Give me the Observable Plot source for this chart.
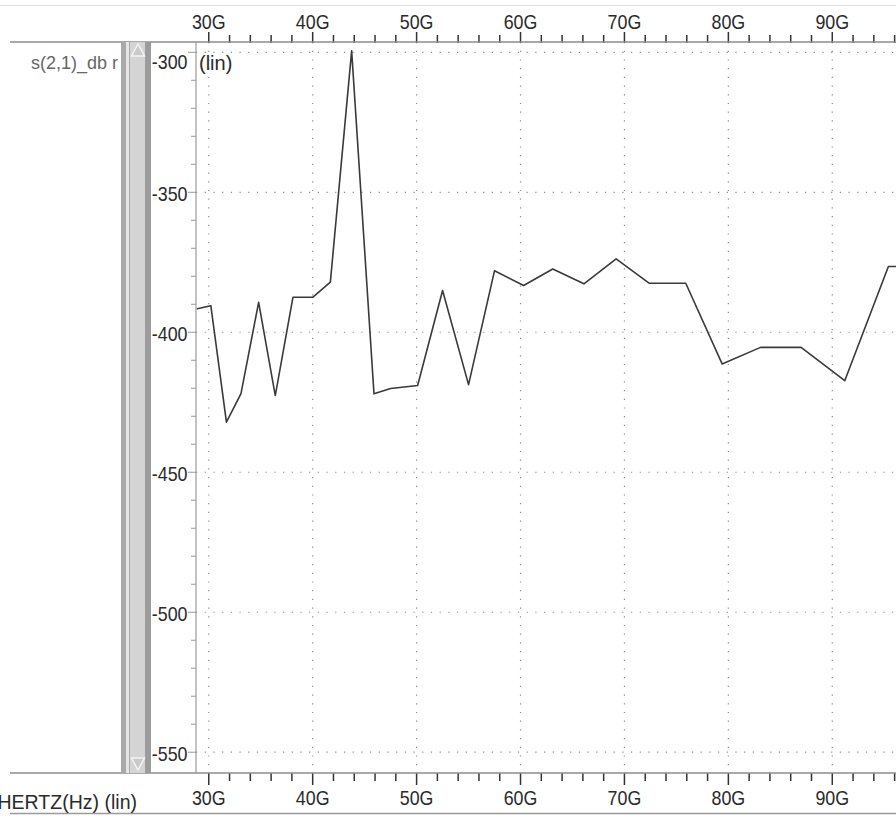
<!DOCTYPE html>
<html>
<head>
<meta charset="utf-8">
<script src="https://cdn.jsdelivr.net/npm/d3@7"></script>
<script src="https://cdn.jsdelivr.net/npm/@observablehq/plot@0.6"></script>
<style>
  html, body { margin: 0; padding: 0; background: #fff; }
  #chart { width: 896px; height: 818px; overflow: hidden; }
</style>
</head>
<body>
<div id="chart"></div>
<script>
// ---- data (frequency in GHz, S21 in dB) ----
const freqG = [28.9, 30.2, 31.7, 33.1, 34.8, 36.4, 38.1, 40.0, 41.7, 43.75, 45.9, 47.5, 50.1, 52.5, 55.0, 57.5, 60.3, 63.1, 66.1, 69.2, 72.4, 75.9, 79.4, 83.1, 87.0, 91.2, 95.4, 96.2];
const s21db = [-391.6, -390.5, -432.1, -421.9, -389.3, -422.6, -387.5, -387.5, -382.1, -299.5, -422.0, -420.1, -419.0, -385.1, -418.7, -378.0, -383.3, -377.4, -382.7, -373.8, -382.5, -382.5, -411.3, -405.4, -405.4, -417.3, -376.5, -376.5];

// ---- ticks ----
const xMajor = [30, 40, 50, 60, 70, 80, 90];
const xTickLabels = ["30G", "40G", "50G", "60G", "70G", "80G", "90G"];
const xMinor = [32, 34, 36, 38, 42, 44, 46, 48, 52, 54, 56, 58, 62, 64, 66, 68, 72, 74, 76, 78, 82, 84, 86, 88, 92, 94, 96];
const yMajor = [-300, -350, -400, -450, -500, -550];
const yTickLabels = ["-300", "-350", "-400", "-450", "-500", "-550"];
const yMinor = [-310, -320, -330, -340, -360, -370, -380, -390, -410, -420, -430, -440, -460, -470, -480, -490, -510, -520, -530, -540];
const xDomain = [28.82, 96.18];
const yDomain = [-557.6, -296.5];

const data = freqG.map((f, i) => ({f, db: s21db[i]}));
const xLabel = d => xTickLabels[xMajor.indexOf(d)];
const yLabel = d => yTickLabels[yMajor.indexOf(d)];

const FONT = "'Liberation Sans', Arial, sans-serif";
const FS = 21;
const gridStyle = {stroke: "#8a8a8a", strokeOpacity: 1, strokeWidth: 1.2, strokeDasharray: "1.2,7.5"};

const plot = Plot.plot({
  width: 896,
  height: 818,
  marginLeft: 196,
  marginRight: 0,
  marginTop: 42,
  marginBottom: 45,
  style: {fontFamily: FONT, fontSize: `${FS}px`, color: "#2a2a2a", background: "#fff"},
  x: {domain: xDomain},
  y: {domain: yDomain},
  marks: [
    Plot.gridX(xMajor, gridStyle),
    Plot.gridY(yMajor, gridStyle),
    // top axis
    Plot.axisX(xMinor, {anchor: "top", tickSize: 8, text: null, label: null, stroke: "#333", strokeWidth: 1.5}),
    Plot.axisX(xMajor, {anchor: "top", tickSize: 11, tickPadding: 3, label: null, tickFormat: xLabel, fontSize: FS, stroke: "#333", strokeWidth: 1.5, fill: "#2a2a2a"}),
    // bottom axis
    Plot.axisX(xMinor, {anchor: "bottom", tickSize: 8, text: null, label: null, stroke: "#333", strokeWidth: 1.5}),
    Plot.axisX(xMajor, {anchor: "bottom", tickSize: 12, tickPadding: 5, label: null, tickFormat: xLabel, fontSize: FS, stroke: "#333", strokeWidth: 1.5, fill: "#2a2a2a"}),
    // left axis
    Plot.axisY(yMinor, {anchor: "left", tickSize: 5, text: null, label: null, stroke: "#999"}),
    Plot.axisY(yMajor, {anchor: "left", tickSize: 8, text: null, label: null, stroke: "#999"}),
    Plot.axisY(yMajor.slice(0, 1), {anchor: "left", tickSize: 0, tickPadding: 9, dy: 10, label: null, tickFormat: yLabel, fontSize: FS, fill: "#2a2a2a"}),
    Plot.axisY(yMajor.slice(1), {anchor: "left", tickSize: 0, tickPadding: 9, dy: 2, label: null, tickFormat: yLabel, fontSize: FS, fill: "#2a2a2a"}),
    // series
    Plot.line(data, {x: "f", y: "db", stroke: "#3a3a3a", strokeWidth: 1.6, clip: true})
  ]
});

document.getElementById("chart").appendChild(plot);

// condensed look of the tick labels (narrow typeface in the original)
d3.select(plot).selectAll('g[aria-label$="tick label"] text').each(function () {
  const len = this.getComputedTextLength();
  if (len > 0) {
    this.setAttribute("textLength", (len * 0.85).toFixed(1));
    this.setAttribute("lengthAdjust", "spacingAndGlyphs");
  }
});

// ---- decorations (frame lines, labels, scrollbar) ----
const svg = d3.select(plot);
const xs = plot.scale("x"), ys = plot.scale("y");
const x0 = xs.apply(xDomain[0]);
const yTop = ys.apply(yDomain[1]);
const yBot = ys.apply(yDomain[0]);
const deco = svg.append("g").attr("text-anchor", "start");

deco.append("line").attr("x1", 0).attr("x2", 896).attr("y1", 5.5).attr("y2", 5.5).attr("stroke", "#e2e2e2");
deco.append("line").attr("x1", 10).attr("x2", 896).attr("y1", yTop).attr("y2", yTop).attr("stroke", "#8c8c8c").attr("stroke-width", 1.5);
deco.append("line").attr("x1", 10).attr("x2", 896).attr("y1", yBot).attr("y2", yBot).attr("stroke", "#8c8c8c").attr("stroke-width", 1.5);
deco.append("line").attr("x1", 10).attr("x2", 896).attr("y1", 813.5).attr("y2", 813.5).attr("stroke", "#9a9a9a").attr("stroke-width", 1.5);
deco.append("line").attr("x1", x0).attr("x2", x0).attr("y1", yTop).attr("y2", yBot).attr("stroke", "#9a9a9a").attr("stroke-width", 1.2);

deco.append("text").attr("x", 31).attr("y", 69).attr("text-anchor", "start")
  .attr("font-family", FONT).attr("font-size", 18)
  .attr("fill", "#666").text("s(2,1)_db r");

deco.append("text").attr("x", x0 + 3).attr("y", 70).attr("text-anchor", "start")
  .attr("font-family", FONT).attr("font-size", 20).attr("fill", "#2a2a2a").text("(lin)");

const hz = deco.append("text").attr("x", 137).attr("y", 809).attr("text-anchor", "end")
  .attr("font-family", FONT).attr("font-size", 21).attr("fill", "#2a2a2a").text("HERTZ(Hz) (lin)");
hz.attr("textLength", (hz.node().getComputedTextLength() * 0.93).toFixed(1)).attr("lengthAdjust", "spacingAndGlyphs");

// scrollbar
const sb = deco.append("g");
sb.append("rect").attr("x", 121).attr("y", yTop).attr("width", 30).attr("height", yBot - yTop).attr("fill", "#aaaaaa");
sb.append("rect").attr("x", 126).attr("y", yTop).attr("width", 3).attr("height", yBot - yTop).attr("fill", "#e6e6e6");
sb.append("rect").attr("x", 130).attr("y", yTop).attr("width", 15).attr("height", yBot - yTop).attr("fill", "#d4d4d4");
sb.append("rect").attr("x", 145).attr("y", yTop).attr("width", 6).attr("height", yBot - yTop).attr("fill", "#9c9c9c");
sb.append("path").attr("d", `M138,${yTop + 2}L131.5,${yTop + 14}L144.5,${yTop + 14}Z`).attr("fill", "#c9c9c9").attr("stroke", "#f4f4f4").attr("stroke-width", 1.5);
sb.append("path").attr("d", `M138,${yBot - 3}L131.5,${yBot - 15}L144.5,${yBot - 15}Z`).attr("fill", "#c9c9c9").attr("stroke", "#f4f4f4").attr("stroke-width", 1.5);
</script>
</body>
</html>
